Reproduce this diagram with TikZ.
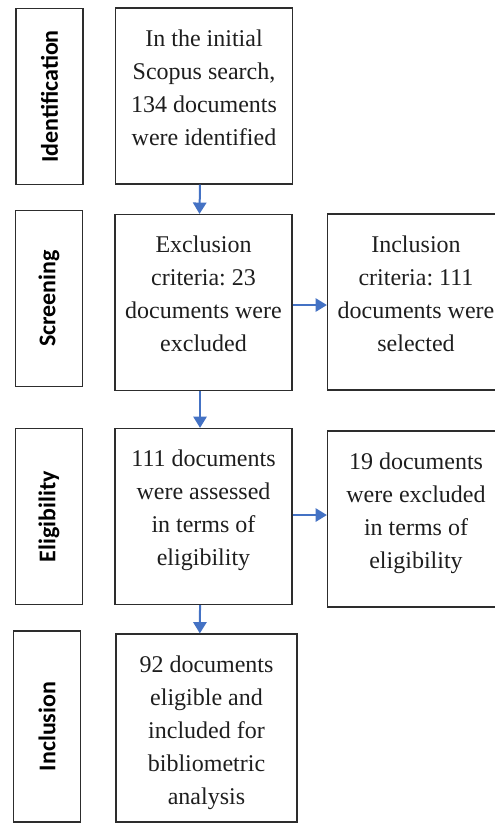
\documentclass[tikz,border=0pt]{standalone}
\usepackage{fontspec}
\setmainfont{Liberation Serif}
\newfontfamily\stagefont{Carlito}
\usetikzlibrary{arrows.meta}
\frenchspacing

\begin{document}
\begin{tikzpicture}[x=0.75pt,y=0.75pt,yscale=-1,xscale=1,
  stagebox/.style={draw={rgb, 255:red, 45; green, 45; blue, 45 },line width=0.9pt,rotate=90,inner sep=0pt,minimum width=132pt,minimum height=50.25pt,font=\stagefont\bfseries\fontsize{18}{22}\selectfont},
  stepbox/.style={draw={rgb, 255:red, 45; green, 45; blue, 45 },line width=0.9pt,inner sep=0pt,minimum width=132.75pt,minimum height=132pt},
  steptext/.style={anchor=north,align=center,inner sep=0pt,text={rgb, 255:red, 30; green, 30; blue, 30 },font=\fontsize{18}{24.75}\selectfont},
  flow/.style={draw={rgb, 255:red, 68; green, 114; blue, 196 },line width=1.5pt,-{Triangle[width=10pt,length=8.5pt]}}]
\useasboundingbox (0,0) rectangle (495,823);

%Shape: Rectangle [stage labels]
\draw (49.5,96.5) node [stagebox] (lab1) {Identification};
\draw (49,298.5) node [stagebox] (lab2) {Screening};
\draw (49,516.5) node [stagebox] (lab3) {Eligibility};
\draw (47,726.5) node [stagebox,minimum width=143.25pt] (lab4) {Inclusion};

%Shape: Rectangle [step boxes]
\draw (204,96) node [stepbox] (box1) {};
\draw (203.5,302.5) node [stepbox] (box2) {};
\draw (416,302) node [stepbox] (side2) {};
\draw (203.5,516.5) node [stepbox] (box3) {};
\draw (416,519) node [stepbox] (side3) {};
\draw (206.5,728) node [stepbox,minimum width=135.75pt,minimum height=141pt] (box4) {};

% Text Node
\node [steptext] (t1) at ([yshift=16.5pt]box1.north) {In the initial\\Scopus search,\\134 documents\\were identified};
% Text Node
\node [steptext] (t2) at ([yshift=16.5pt]box2.north) {Exclusion\\criteria: 23\\documents were\\excluded};
% Text Node
\node [steptext] (t2s) at ([yshift=16.5pt]side2.north) {Inclusion\\criteria: 111\\documents were\\selected};
% Text Node
\node [steptext] (t3) at ([yshift=16.5pt]box3.north) {111 documents\\were assessed\\in terms of\\eligibility};
% Text Node
\node [steptext] (t3s) at ([yshift=16.5pt]side3.north) {19 documents\\were excluded\\in terms of\\eligibility};
% Text Node
\node [steptext] (t4) at ([yshift=16.5pt]box4.north) {92 documents\\eligible and\\included for\\bibliometric\\analysis};

%Straight Lines [arrows]
\draw [flow] ([xshift=-3pt]box1.south) -- ([xshift=-3pt]box2.north);
\draw [flow] ([yshift=1.9pt]box2.east) coordinate (e2) -- (e2 -| side2.west);
\draw [flow] ([xshift=-2.6pt]box2.south) -- ([xshift=-2.6pt]box3.north);
\draw [flow] ([yshift=-1.1pt]box3.east) coordinate (e3) -- (e3 -| side3.west);
\draw [flow] ([xshift=-2.6pt]box3.south) -- ([xshift=-5pt]box4.north);

\end{tikzpicture}
\end{document}
